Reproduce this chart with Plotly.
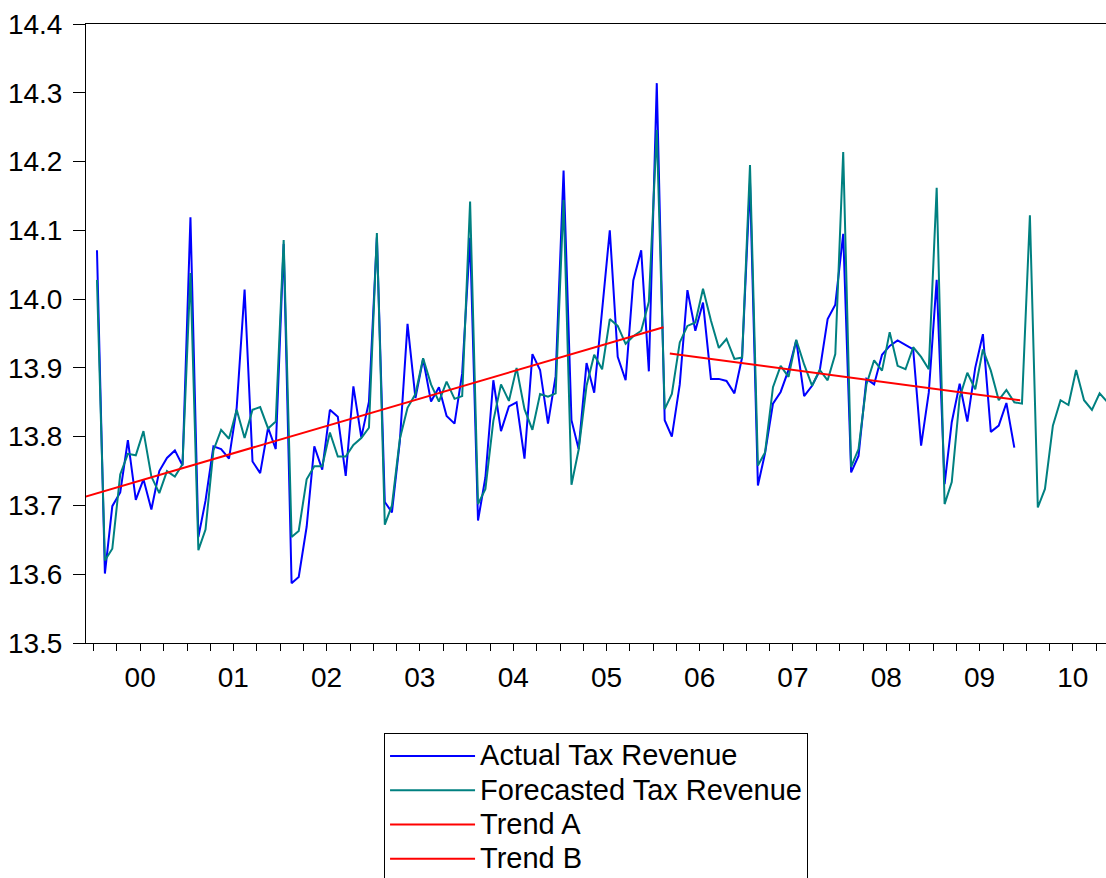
import pandas as pd
import plotly.graph_objects as go

# ---- data (monthly, first observation Jan 2000) ----
actual = [14.071, 13.601, 13.699, 13.719, 13.795, 13.708, 13.738, 13.694, 13.750, 13.769, 13.780, 13.758,
          14.119, 13.654, 13.707, 13.786, 13.782, 13.768, 13.842, 14.014, 13.764, 13.747, 13.813, 13.782,
          14.080, 13.587, 13.596, 13.669, 13.786, 13.752, 13.839, 13.829, 13.743, 13.873, 13.799, 13.851,
          14.090, 13.705, 13.690, 13.794, 13.964, 13.856, 13.913, 13.851, 13.872, 13.830, 13.819, 13.892,
          14.089, 13.678, 13.741, 13.882, 13.808, 13.844, 13.850, 13.768, 13.920, 13.897, 13.819, 13.888,
          14.187, 13.824, 13.782, 13.907, 13.864, 13.990, 14.100, 13.916, 13.882, 14.027, 14.071, 13.895,
          14.314, 13.824, 13.800, 13.876, 14.013, 13.954, 13.995, 13.884, 13.884, 13.881, 13.863, 13.915,
          14.170, 13.729, 13.776, 13.848, 13.865, 13.897, 13.940, 13.859, 13.874, 13.896, 13.971, 13.992,
          14.095, 13.748, 13.772, 13.884, 13.876, 13.919, 13.932, 13.940, 13.933, 13.927, 13.787, 13.864,
          14.028, 13.731, 13.821, 13.877, 13.822, 13.900, 13.949, 13.807, 13.816, 13.849, 13.784]

forecast = [14.028, 13.620, 13.637, 13.745, 13.775, 13.773, 13.808, 13.742, 13.718, 13.750, 13.742, 13.760,
            14.038, 13.635, 13.665, 13.780, 13.810, 13.797, 13.839, 13.798, 13.839, 13.843, 13.812, 13.822,
            14.086, 13.654, 13.663, 13.738, 13.757, 13.757, 13.806, 13.771, 13.771, 13.788, 13.798, 13.813,
            14.096, 13.672, 13.700, 13.797, 13.842, 13.862, 13.914, 13.876, 13.851, 13.880, 13.855, 13.859,
            14.142, 13.702, 13.724, 13.823, 13.876, 13.852, 13.900, 13.840, 13.810, 13.862, 13.858, 13.863,
            14.144, 13.730, 13.781, 13.874, 13.919, 13.898, 13.971, 13.961, 13.935, 13.946, 13.954, 13.996,
            14.246, 13.840, 13.862, 13.937, 13.961, 13.966, 14.015, 13.969, 13.929, 13.942, 13.913, 13.915,
            14.195, 13.758, 13.777, 13.872, 13.903, 13.887, 13.941, 13.905, 13.874, 13.897, 13.882, 13.920,
            14.214, 13.756, 13.782, 13.876, 13.911, 13.896, 13.952, 13.903, 13.898, 13.930, 13.916, 13.898,
            14.162, 13.702, 13.734, 13.857, 13.893, 13.869, 13.927, 13.896, 13.853, 13.868, 13.850, 13.848,
            14.122, 13.697, 13.724, 13.816, 13.853, 13.846, 13.897, 13.853, 13.839, 13.863, 13.850]

trend_a_dates = ["1999-12-01", "2006-02-09"]
trend_a_values = [13.713, 13.959]
trend_b_dates = ["2006-03-06", "2009-12-07"]
trend_b_values = [13.921, 13.853]

series_names = ["Actual Tax Revenue", "Forecasted Tax Revenue", "Trend A", "Trend B"]
year_labels = ["00", "01", "02", "03", "04", "05", "06", "07", "08", "09", "10"]
years = list(range(2000, 2011))

months = pd.date_range("2000-01-01", periods=len(forecast), freq="MS") + pd.Timedelta(days=13)
dates_actual = [d.strftime("%Y-%m-%d") for d in months[:len(actual)]]
dates_fc = [d.strftime("%Y-%m-%d") for d in months]

FONT = "Liberation Sans, Arial, sans-serif"


def legend_name(s):
    return f"<span style='font-size:29px'>{s}</span>"


fig = go.Figure()
fig.add_trace(go.Scatter(x=dates_actual, y=actual, mode="lines", name=legend_name(series_names[0]),
                         line=dict(color="#0000FF", width=2)))
fig.add_trace(go.Scatter(x=dates_fc, y=forecast, mode="lines", name=legend_name(series_names[1]),
                         line=dict(color="#008080", width=2)))
fig.add_trace(go.Scatter(x=trend_a_dates, y=trend_a_values, mode="lines", name=legend_name(series_names[2]),
                         line=dict(color="#FF0000", width=2)))
fig.add_trace(go.Scatter(x=trend_b_dates, y=trend_b_values, mode="lines", name=legend_name(series_names[3]),
                         line=dict(color="#FF0000", width=2)))

xrange = ["1999-12-02", "2010-11-08"]

fig.update_layout(
    width=1106, height=878,
    margin=dict(l=86, r=0, t=24, b=235),
    paper_bgcolor="white", plot_bgcolor="white",
    font=dict(family=FONT, color="black"),
    showlegend=True,
    legend=dict(
        xref="paper", yref="container",
        x=0.2922, y=1 - 733 / 878, xanchor="left", yanchor="top",
        bordercolor="black", borderwidth=1, bgcolor="white",
        font=dict(size=24, family=FONT, color="black"),
        itemwidth=85, tracegroupgap=0,
    ),
    xaxis=dict(
        type="date", range=xrange,
        tickmode="array",
        tickvals=[f"{y}-07-01" for y in years],
        ticktext=year_labels,
        ticks="", ticklabelstandoff=9,
        tickfont=dict(size=28, family=FONT, color="black"),
        showline=True, linecolor="black", linewidth=1, mirror=True,
        showgrid=False, zeroline=False,
        minor=dict(ticks="outside", ticklen=7, tickcolor="black", tickwidth=1,
                   dtick="M3", tick0="2000-01-01", showgrid=False),
    ),
    xaxis2=dict(
        type="date", range=xrange, overlaying="x", anchor="y", side="bottom",
        tickmode="array", tickvals=[f"{y}-01-01" for y in years],
        ticks="outside", ticklen=13, tickcolor="black", tickwidth=1,
        showticklabels=False, showline=False, showgrid=False, zeroline=False,
    ),
    yaxis=dict(
        range=[13.5, 14.4], dtick=0.1, tick0=13.5, tickformat=".1f",
        ticks="outside", ticklen=12, tickcolor="black", tickwidth=1,
        ticklabelstandoff=5,
        tickfont=dict(size=28, family=FONT, color="black"),
        showline=True, linecolor="black", linewidth=1,
        showgrid=False, zeroline=False,
    ),
)

fig.write_html("out.html",
               config={"displayModeBar": False},
               post_script="document.body.style.margin='0';document.body.style.overflow='hidden';")
